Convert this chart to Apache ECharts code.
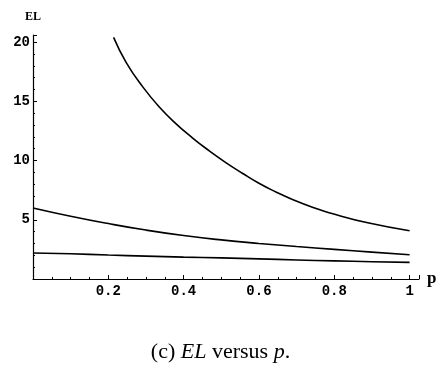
<!DOCTYPE html>
<html>
<head>
<meta charset="utf-8">
<script src="https://cdn.jsdelivr.net/npm/echarts@6/dist/echarts.min.js"></script>
<style>
html, body { margin: 0; padding: 0; background: #fff; }
#container { width: 441px; height: 371px; }
</style>
</head>
<body>
<div id="container"></div>
<script>
// values
var pTop = [0.214, 0.248, 0.292, 0.336, 0.380, 0.424, 0.468, 0.512, 0.556, 0.600, 0.645, 0.689, 0.750, 0.786, 0.892, 1.0];
var elTop = [20.4, 18.25, 16.2, 14.5, 13.1, 11.9, 10.82, 9.83, 8.93, 8.08, 7.35, 6.72, 5.97, 5.6, 4.72, 4.08];

var pGrid = [0, 0.1, 0.2, 0.3, 0.4, 0.5, 0.6, 0.7, 0.8, 0.9, 1.0];
var elMid = [6.0, 5.3, 4.68, 4.13, 3.67, 3.3, 3.0, 2.74, 2.5, 2.27, 2.05];
var elLow = [2.2, 2.13, 2.02, 1.93, 1.85, 1.78, 1.7, 1.61, 1.53, 1.46, 1.4];

function pairs(xs, ys) {
    return xs.map(function (x, i) { return [x, ys[i]]; });
}

var dom = document.getElementById("container");
var myChart = echarts.init(dom);

var tickFont = {
    fontFamily: 'Liberation Mono',
    fontWeight: 'bold',
    fontSize: 14,
    color: '#000'
};

function curve(data) {
    return {
        type: 'line',
        data: data,
        smooth: 0.5,
        showSymbol: false,
        lineStyle: { color: '#000', width: 1.6 }
    };
}

var option = {
    backgroundColor: '#fff',
    animation: false,
    title: {
        text: '{n|(c) }{i|EL}{n| versus }{i|p}{n|.}',
        left: 'center',
        top: 336,
        textStyle: {
            rich: {
                n: { fontFamily: 'Liberation Serif', fontSize: 22, fontWeight: 'normal', color: '#000' },
                i: { fontFamily: 'Liberation Serif', fontSize: 22, fontStyle: 'italic', fontWeight: 'normal', color: '#000' }
            }
        }
    },
    grid: { left: 33, right: 22, top: 35, bottom: 92 },
    xAxis: {
        type: 'value',
        min: 0,
        max: 1.025,
        interval: 0.2,
        name: 'p',
        nameGap: 8,
        nameTextStyle: { fontFamily: 'Liberation Serif', fontWeight: 'bold', fontSize: 17, color: '#000' },
        axisLine: { lineStyle: { color: '#000', width: 1.2 } },
        axisTick: { inside: true, length: 4, lineStyle: { color: '#000' } },
        minorTick: { show: true, splitNumber: 4, length: 2, lineStyle: { color: '#000' } },
        splitLine: { show: false },
        axisLabel: Object.assign({
            margin: 5,
            formatter: function (v) {
                var r = Math.round(v * 10) / 10;
                if (v === 0 || Math.abs(v - r) > 1e-6 || v > 1.0001) return '';
                return r === 1 ? '1' : r.toFixed(1);
            }
        }, tickFont)
    },
    yAxis: {
        type: 'value',
        min: 0,
        max: 20.6,
        interval: 5,
        name: 'EL',
        nameGap: 12,
        nameTextStyle: { fontFamily: 'Liberation Serif', fontWeight: 'bold', fontSize: 12, color: '#000', align: 'center' },
        axisLine: { show: true, lineStyle: { color: '#000', width: 1.2 } },
        axisTick: { show: true, inside: true, length: 4, lineStyle: { color: '#000' } },
        minorTick: { show: true, splitNumber: 5, length: 2, lineStyle: { color: '#000' } },
        splitLine: { show: false },
        axisLabel: Object.assign({
            margin: 3,
            formatter: function (v) {
                if (v === 0 || v % 5 !== 0) return '';
                return String(v);
            }
        }, tickFont)
    },
    series: [
        curve(pairs(pTop, elTop)),
        curve(pairs(pGrid, elMid)),
        curve(pairs(pGrid, elLow))
    ]
};

if (option && typeof option === "object") {
    myChart.setOption(option, true);
}
</script>
</body>
</html>
